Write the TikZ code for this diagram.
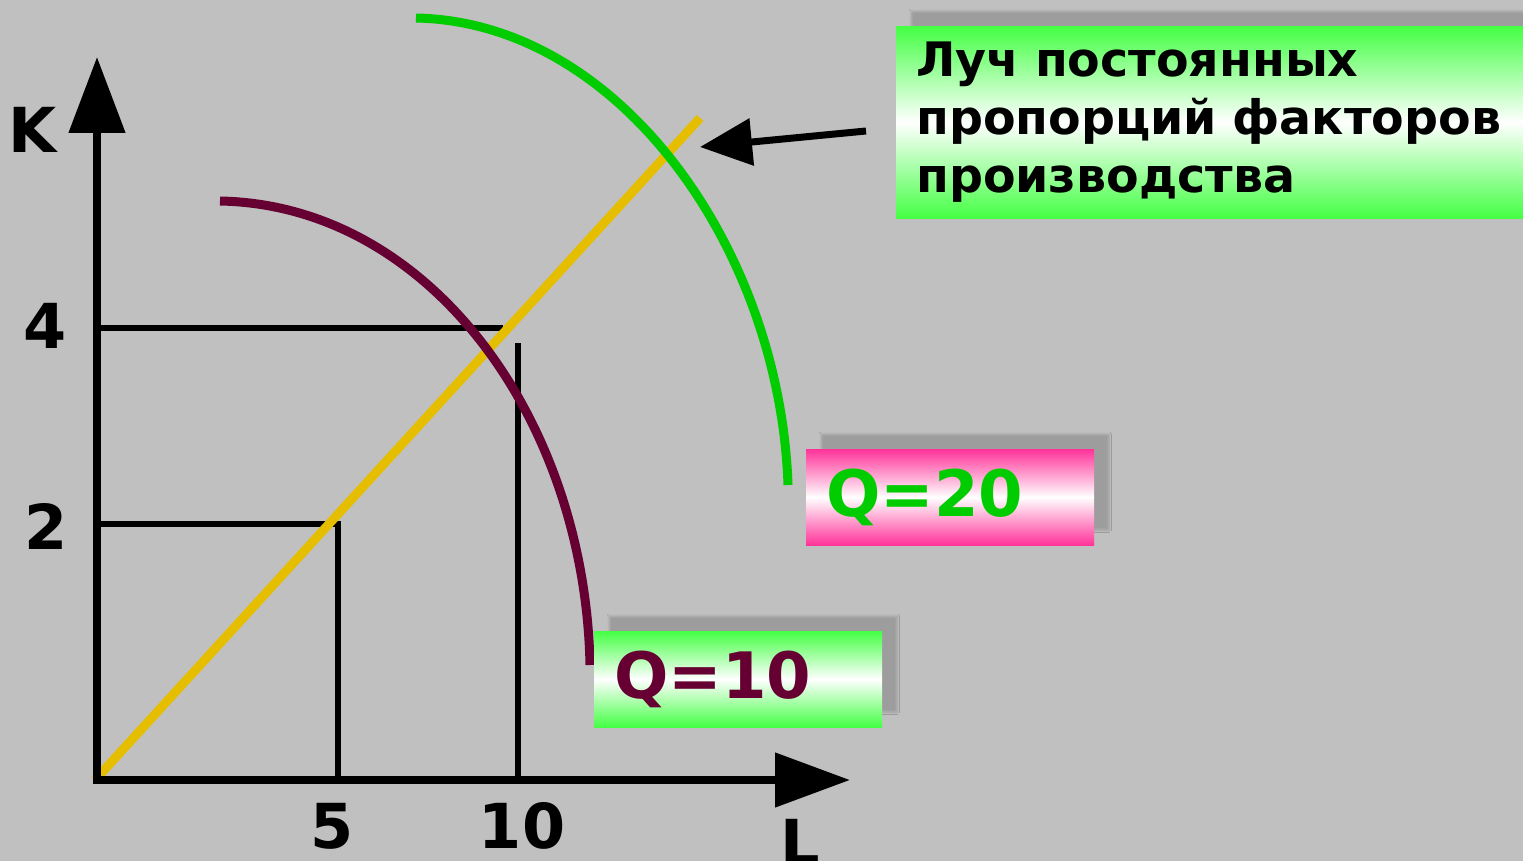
\documentclass[tikz,border=0pt]{standalone}
\usepackage{fontspec}
\setmainfont{DejaVu Sans}[BoldFont={DejaVu Sans Bold}]
\usetikzlibrary{arrows.meta,shadows.blur}
\definecolor{bg}{RGB}{192,192,192}
\definecolor{lgreen}{RGB}{68,255,68}
\definecolor{lpink}{RGB}{255,51,153}
\definecolor{ray}{RGB}{230,190,0}
\definecolor{maroon}{RGB}{102,0,51}
\definecolor{qgreen}{RGB}{0,204,0}
\tikzset{
  axis/.style={line width=8pt,-{Triangle[width=55pt,length=76pt]}},
  guide/.style={line width=5.5pt},
  curve/.style={line width=9pt},
  numlbl/.style={font=\fontsize{62}{70}\selectfont\bfseries,inner sep=0pt},
  gbox/.style={anchor=north west,inner xsep=20pt,inner ysep=0pt,align=left,
    top color=#1,bottom color=#1,middle color=white,
    blur shadow={shadow xshift=15pt,shadow yshift=15pt,shadow opacity=18,shadow blur steps=8}},
}
\begin{document}
\begin{tikzpicture}[x=1pt,y=-1pt]
\fill[bg] (0,0) rectangle (1523,861);
\useasboundingbox (0,0) rectangle (1523,861);
% coordinates
\coordinate (O) at (97,780);
\coordinate (Ktop) at (97,57);
\coordinate (Ltop) at (850,780);
\coordinate (K4) at (97,328);
\coordinate (H4) at (503,328);
\coordinate (K2) at (97,524);
\coordinate (P5) at (338,524);
\coordinate (L5) at (338,780);
\coordinate (P10) at (518,343);
\coordinate (L10) at (518,780);
\coordinate (R0) at (95,780);
\coordinate (R1) at (700,118);
\coordinate (A0) at (866,131);
\coordinate (A1) at (700,147);
% guides
\draw[guide] (K4) -- (H4);
\draw[guide] (K2) -- (P5) -- (L5);
\draw[guide] (P10) -- (L10);
% ray
\draw[line width=9pt,ray] (R0) -- (R1);
% curves
\draw[curve,maroon] (220,201) .. controls (430,205) and (585,420) .. (590,665);
\draw[curve,qgreen] (416,18) .. controls (620,22) and (780,250) .. (788,485);
% axes
\draw[axis] (O) -- (Ktop);
\draw[axis,-{Triangle[width=53pt,length=75pt]}] ([xshift=-4pt]O) -- (Ltop);
% arrow to ray
\draw[line width=7pt,-{Triangle[width=46pt,length=52pt]}] (A0) -- (A1);
% axis labels
\node[numlbl] (klbl) at (33,130) {K};
\node[numlbl] (llbl) at (800,842) {L};
\node[numlbl] (n4) at (45,326) {4};
\node[numlbl] (n2) at (46,526) {2};
\node[numlbl] (n5) at (332,826) {5};
\node[numlbl] (n10) at (522,826) {10};
% label boxes
\node[gbox=lpink,minimum width=288pt,minimum height=96pt,text width=248pt,
  font=\fontsize{64}{70}\selectfont\bfseries,text=qgreen] (q20) at (806,449) {Q=20};
\node[gbox=lgreen,minimum width=288pt,minimum height=96pt,text width=248pt,
  font=\fontsize{64}{70}\selectfont\bfseries,text=maroon] (q10) at (594,631) {Q=10};
\node[gbox=lgreen,minimum width=627pt,minimum height=192pt,text width=600pt,inner xsep=20pt,
  font=\fontsize{47.5}{58}\selectfont\bfseries,text=black] (ray lbl) at (896,26)
  {Луч постоянных\\пропорций факторов\\производства};
\end{tikzpicture}
\end{document}
